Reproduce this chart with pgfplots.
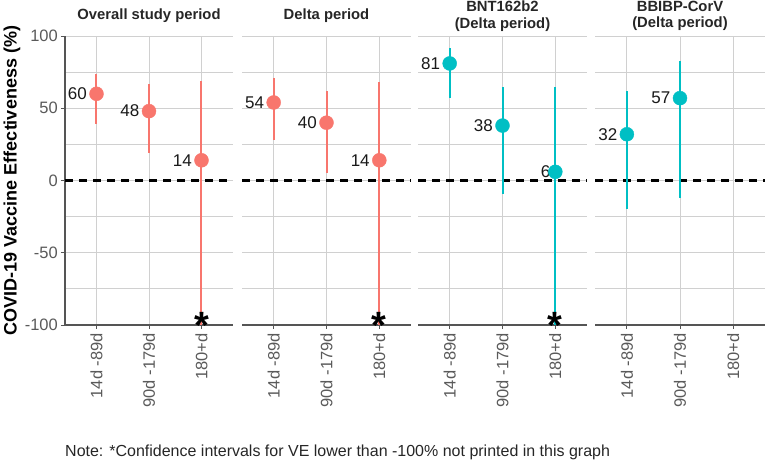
\documentclass[border=0pt]{standalone}
\usepackage{pgfplots}
\usepackage{pgfplotstable}
\pgfplotsset{compat=1.18}
\usepackage{fontspec}
\setmainfont{Liberation Sans}

\definecolor{salmon}{HTML}{F8766D}
\definecolor{teal}{HTML}{00BFC4}
\definecolor{gridgray}{HTML}{D0D0D0}
\definecolor{axisgray}{HTML}{555555}
\definecolor{ticktext}{HTML}{5A5A5A}

% x = category, y = VE, lo/hi = confidence interval
\pgfplotstableread{
x y lo hi lab
1 60 39 74 60
2 48 19 67 48
3 14 -100 69 14
}\overall
\pgfplotstableread{
x y lo hi lab
1 54 28 71 54
2 40 5 62 40
3 14 -100 68 14
}\delta
\pgfplotstableread{
x y lo hi lab
1 81 57 92 81
2 38 -9 65 38
3 6 -100 65 6
}\bnt
\pgfplotstableread{
x y lo hi lab
1 32 -20 62 32
2 57 -12 83 57
}\bbibp

\pgfplotsset{
  panel/.style={
    scale only axis, height=289pt,
    xmin=0.4, xmax=3.6, ymin=-100, ymax=100,
    clip=false,
    axis x line*=bottom, axis y line*=left,
    axis line style={axisgray, line width=1.6pt},
    xtick={1,2,3}, xticklabels={14d -89d,90d -179d,180+d},
    ytick={-100,-50,0,50,100}, minor ytick={-75,-25,25,75},
    yticklabels={-100,-50,0,50,100},
    xmajorgrids, ymajorgrids, yminorgrids,
    major grid style={gridgray, line width=0.9pt},
    minor grid style={gridgray, line width=0.9pt},
    tick align=outside, major tick length=4pt, minor tick length=0pt,
    major tick style={axisgray, line width=0.9pt},
    xticklabel style={rotate=90, anchor=east, inner sep=0pt, font=\fontsize{16.5}{18}\selectfont, text=ticktext},
    xticklabel shift=4pt,
    yticklabel style={inner sep=0pt, font=\fontsize{16.5}{18}\selectfont, text=ticktext},
    yticklabel shift=3pt,
    title style={at={(0.5,1)}, anchor=center, yshift=14pt, align=center,
      font=\fontsize{14.8}{16.5}\selectfont\bfseries, text=black!85},
  },
  noy/.style={
    y axis line style={draw=none}, yticklabels={}, ytick style={draw=none},
  },
  vals/.style={draw=none, mark=none, nodes near coords={\makebox[1.5\width][l]{\pgfplotspointmeta}},
    point meta=explicit symbolic,
    nodes near coords style={anchor=east, inner sep=0pt, font=\fontsize{17}{19}\selectfont, text=black!90}},
  ci/.style={color=#1, mark=*, mark size=7pt, mark options={fill=#1, draw=#1}, only marks,
    error bars/.cd, y dir=both, y explicit, error mark=none,
    error bar style={line width=2pt, color=#1}},
  zero/.style={black, dash pattern=on 8pt off 6pt, line width=2.2pt},
  star/.style={draw=none, mark=none, nodes near coords={*},
    nodes near coords style={anchor=base, inner sep=0pt, yshift=-14pt, font=\fontsize{38}{40}\selectfont\bfseries, text=black}},
}

\begin{document}
\begin{tikzpicture}
\useasboundingbox (0,0) rectangle (766pt,463pt);

\begin{axis}[panel, width=168pt, at={(65pt,138pt)}, anchor=south west,
  title={Overall study period},
  ylabel={COVID-19 Vaccine Effectiveness (\%)},
  ylabel style={at={(axis description cs:0,0.5)}, anchor=center, yshift=53pt,
    font=\fontsize{18}{20}\selectfont\bfseries, text=black}]
\addplot[zero] coordinates {(0.4,0) (3.6,0)};
\addplot[vals] table[x=x, y=y, meta=lab] {\overall};
\addplot[ci=salmon] table[x=x, y=y, y error plus expr=\thisrow{hi}-\thisrow{y}, y error minus expr=\thisrow{y}-\thisrow{lo}] {\overall};
\addplot[star] coordinates {(3,-100)};
\end{axis}

\begin{axis}[panel, noy, width=169pt, at={(242pt,138pt)}, anchor=south west,
  title={Delta period}]
\addplot[zero] coordinates {(0.4,0) (3.6,0)};
\addplot[vals] table[x=x, y=y, meta=lab] {\delta};
\addplot[ci=salmon] table[x=x, y=y, y error plus expr=\thisrow{hi}-\thisrow{y}, y error minus expr=\thisrow{y}-\thisrow{lo}] {\delta};
\addplot[star] coordinates {(3,-100)};
\end{axis}

\begin{axis}[panel, noy, width=169pt, at={(418pt,138pt)}, anchor=south west,
  title={BNT162b2\\(Delta period)}]
\addplot[zero] coordinates {(0.4,0) (3.6,0)};
\addplot[vals] table[x=x, y=y, meta=lab] {\bnt};
\addplot[ci=teal] table[x=x, y=y, y error plus expr=\thisrow{hi}-\thisrow{y}, y error minus expr=\thisrow{y}-\thisrow{lo}] {\bnt};
\addplot[star] coordinates {(3,-100)};
\end{axis}

\begin{axis}[panel, noy, width=170pt, at={(595pt,138pt)}, anchor=south west,
  title={BBIBP-CorV\\(Delta period)}]
\addplot[zero] coordinates {(0.4,0) (3.6,0)};
\addplot[vals] table[x=x, y=y, meta=lab] {\bbibp};
\addplot[ci=teal] table[x=x, y=y, y error plus expr=\thisrow{hi}-\thisrow{y}, y error minus expr=\thisrow{y}-\thisrow{lo}] {\bbibp};
\end{axis}

\node[anchor=base west, inner sep=0pt, font=\fontsize{16}{18}\selectfont, text=black!85] at (65pt,6pt)
  {Note: *Confidence intervals for VE lower than -100\% not printed in this graph};
\end{tikzpicture}
\end{document}
